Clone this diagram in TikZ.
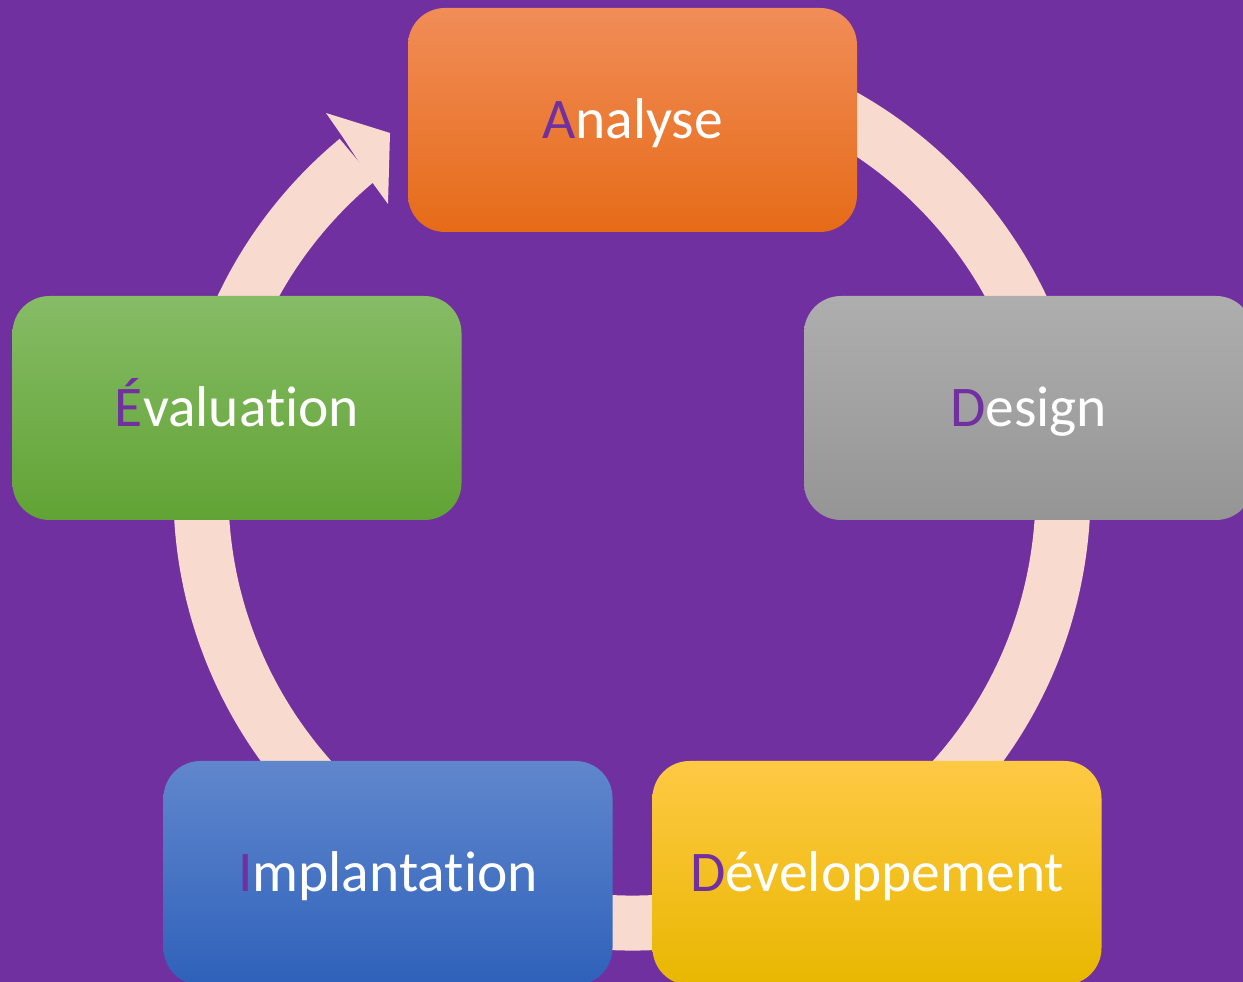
\documentclass[tikz,border=0pt]{standalone}
\usepackage{fontspec}
\setmainfont{Carlito}[Ligatures={NoCommon}]
\definecolor{bgpurple}{RGB}{112,48,160}
\definecolor{ringpink}{RGB}{248,218,207}
\tikzset{
  stage/.style={rounded corners=37pt, minimum width=449pt, minimum height=224pt,
    inner sep=0pt, text=white, font=\fontsize{57.5}{60}\selectfont,
    text height=37pt, text depth=0pt},
  ring/.style={draw=ringpink, line width=55pt},
}
\newcommand{\first}[1]{\textcolor{bgpurple}{#1}}
\begin{document}
\begin{tikzpicture}[x=1pt, y=1pt]
  \useasboundingbox (0,0) rectangle (1243,982);
  \clip (0,0) rectangle (1243,982);
  \fill [bgpurple] (0,0) rectangle (1243,982);
  % cycle ring with its arrowhead
  \coordinate (ctr) at (632,490);
  \draw [ring] (ctr) ++(80:431) arc [start angle=80, end angle=-230.4, radius=431];
  \coordinate (barbup) at (326,869);
  \coordinate (tip)    at (390,849);
  \coordinate (barblo) at (388,778);
  \coordinate (notchi) at (372,800);
  \coordinate (notcho) at (342,846);
  \fill [ringpink] (barbup) -- (tip) -- (barblo) -- (notchi) -- (notcho) -- cycle;
  % stages
  \node [stage, top color={rgb,255:red,241;green,141;blue,88},
         middle color={rgb,255:red,245;green,126;blue,45},
         bottom color={rgb,255:red,230;green,107;blue,24}]
    (analyse) at (632.5,862) {\first{A}nalyse};
  \node [stage, top color={rgb,255:red,174;green,174;blue,174},
         bottom color={rgb,255:red,149;green,149;blue,149}]
    (design) at (1028.5,574) {\first{D}esign};
  \node [stage, top color={rgb,255:red,255;green,201;blue,68},
         middle color={rgb,255:red,255;green,196;blue,0},
         bottom color={rgb,255:red,232;green,183;blue,0}]
    (dev) at (877,109) {\first{D}éveloppement};
  \node [stage, top color={rgb,255:red,96;green,135;blue,205},
         middle color={rgb,255:red,68;green,115;blue,198},
         bottom color={rgb,255:red,47;green,97;blue,186}]
    (implant) at (388,109) {\first{I}mplantation};
  \node [stage, top color={rgb,255:red,134;green,188;blue,102},
         middle color={rgb,255:red,112;green,174;blue,70},
         bottom color={rgb,255:red,97;green,163;blue,52}]
    (eval) at (237,574) {\first{É}valuation};
\end{tikzpicture}
\end{document}
